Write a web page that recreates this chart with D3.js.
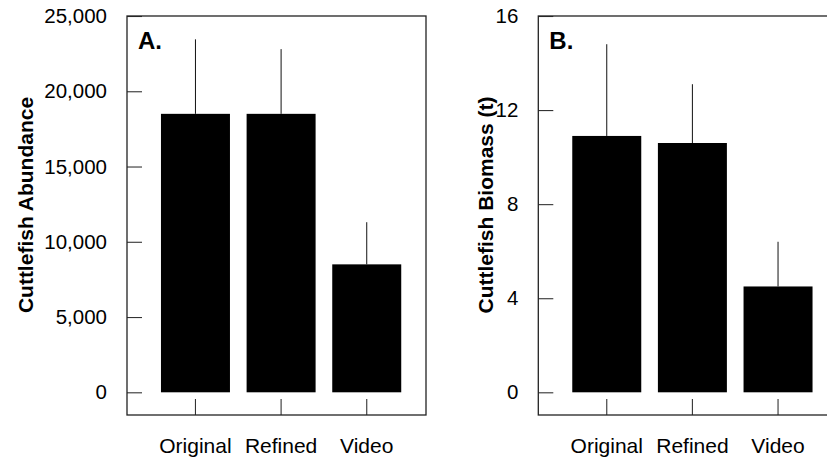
<!DOCTYPE html>
<html>
<head>
<meta charset="utf-8">
<script src="https://cdn.jsdelivr.net/npm/d3@7"></script>
<style>
  html, body { margin: 0; padding: 0; background: #fff; }
  svg { display: block; }
  text { font-family: "Liberation Sans", Arial, Helvetica, sans-serif; fill: #000; }
</style>
</head>
<body>
<svg id="chart" width="827" height="457"></svg>
<script>
// ---- data ----
const categories = ["Original", "Refined", "Video"];

const abundanceMean = [18500, 18500, 8500];
const abundanceUpper = [23450, 22800, 11300];
const abundanceTicks = [0, 5000, 10000, 15000, 20000, 25000];

const biomassMean = [10.9, 10.6, 4.5];
const biomassUpper = [14.8, 13.1, 6.4];
const biomassTicks = [0, 4, 8, 12, 16];

const panels = [
  { letter: "A.", title: "Cuttlefish Abundance", mean: abundanceMean, upper: abundanceUpper,
    ticks: abundanceTicks, max: 25000, fmt: d3.format(","), left: 127, titleX: 33 },
  { letter: "B.", title: "Cuttlefish Biomass (t)", mean: biomassMean, upper: biomassUpper,
    ticks: biomassTicks, max: 16, fmt: d3.format("d"), left: 538.3, titleX: 493 }
];

// ---- layout ----
const boxW = 299, boxTop = 16, boxBottom = 415, zeroY = 392.3;
const svg = d3.select("#chart");

panels.forEach(p => {
  const g = svg.append("g");
  const x = d3.scaleBand().domain(categories)
    .range([p.left + 25.4, p.left + 282.8])
    .paddingInner(0.1944).paddingOuter(0.1);
  const y = d3.scaleLinear().domain([0, p.max]).range([zeroY, boxTop]);

  // error bars (upper only)
  g.selectAll("line.err").data(categories).join("line")
    .attr("class", "err")
    .attr("x1", d => x(d) + x.bandwidth() / 2)
    .attr("x2", d => x(d) + x.bandwidth() / 2)
    .attr("y1", (d, i) => y(p.mean[i]))
    .attr("y2", (d, i) => y(p.upper[i]))
    .attr("stroke", "#111").attr("stroke-width", 1);

  // bars
  g.selectAll("rect.bar").data(categories).join("rect")
    .attr("class", "bar")
    .attr("x", d => x(d))
    .attr("width", x.bandwidth())
    .attr("y", (d, i) => y(p.mean[i]))
    .attr("height", (d, i) => y(0) - y(p.mean[i]))
    .attr("fill", "#000");

  // y axis (inward ticks)
  const ya = g.append("g").attr("transform", `translate(${p.left},0)`)
    .call(d3.axisLeft(y).tickValues(p.ticks).tickFormat(p.fmt).tickSize(-15).tickPadding(20));
  ya.select(".domain").remove();
  ya.selectAll(".tick line").attr("stroke", "#333").attr("stroke-width", 1.1);
  ya.selectAll(".tick text").attr("font-size", 20.5).attr("fill", "#000")
    .style("font-family", '"Liberation Sans", Arial, sans-serif');

  // x axis (inward ticks at bottom of box)
  const xa = g.append("g").attr("transform", `translate(0,${boxBottom})`)
    .call(d3.axisBottom(x).tickSize(-16).tickPadding(23));
  xa.select(".domain").remove();
  xa.selectAll(".tick line").attr("stroke", "#333").attr("stroke-width", 1.1);
  xa.selectAll(".tick text").attr("font-size", 21).attr("fill", "#000")
    .style("font-family", '"Liberation Sans", Arial, sans-serif');

  // frame
  g.append("rect")
    .attr("x", p.left).attr("y", boxTop)
    .attr("width", boxW).attr("height", boxBottom - boxTop)
    .attr("fill", "none").attr("stroke", "#222").attr("stroke-width", 1.3);

  // panel letter
  g.append("text").attr("x", p.left + 11).attr("y", 49)
    .attr("font-size", 24).attr("font-weight", "bold").text(p.letter);

  // y title
  g.append("text")
    .attr("transform", `translate(${p.titleX},205) rotate(-90)`)
    .attr("text-anchor", "middle")
    .attr("font-size", 21).attr("font-weight", "bold").text(p.title);
});
</script>
</body>
</html>
